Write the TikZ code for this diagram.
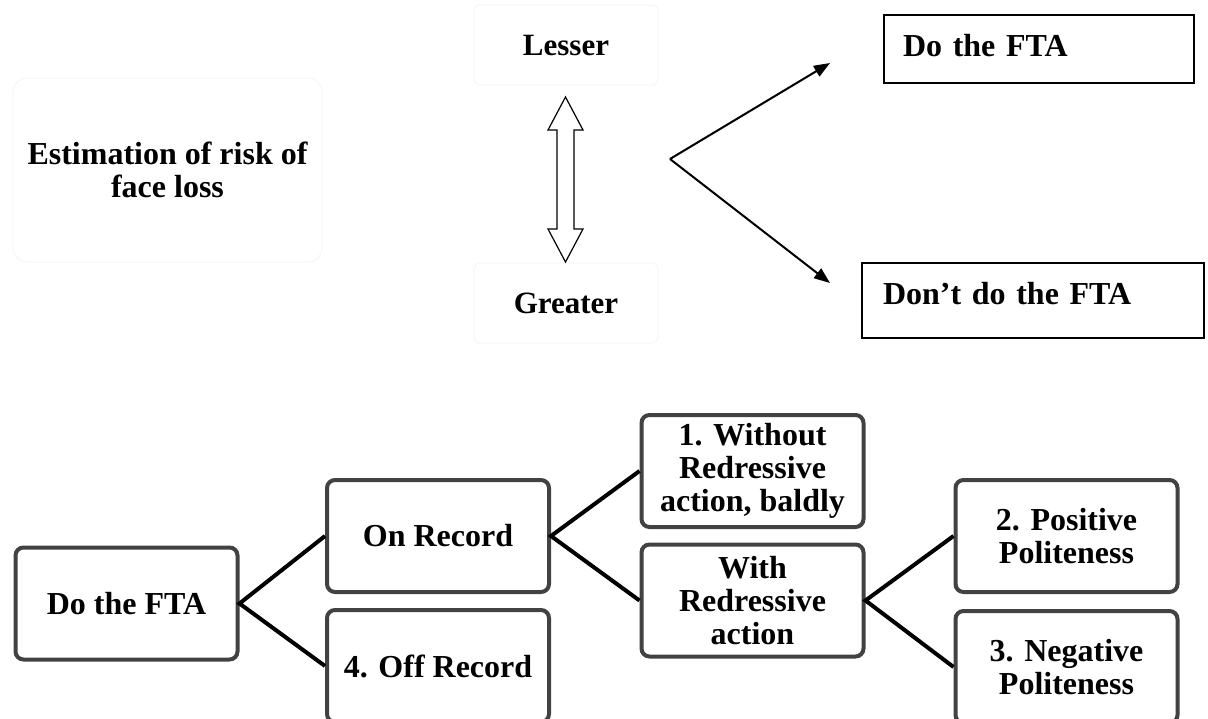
\documentclass[tikz,border=0pt]{standalone}
\usepackage{fontspec}
\setmainfont{Liberation Serif}
\usetikzlibrary{arrows.meta}
\definecolor{edge}{HTML}{424242}
\definecolor{ghost}{HTML}{F6F6F6}
\tikzset{
  choice/.style={draw=edge,line width=4pt,rounded corners=8pt,fill=white,align=center,minimum width=222pt,minimum height=112pt,inner sep=0pt,font=\bfseries\fontsize{32}{33}\selectfont},
  level/.style={draw=ghost,line width=1pt,rounded corners=6pt,align=center,minimum width=184pt,minimum height=80pt,font=\bfseries\fontsize{31}{33}\selectfont},
  outcome/.style={draw,line width=2pt,anchor=north west,align=left,inner xsep=19pt,inner ysep=0pt,text height=41pt,font=\bfseries\fontsize{32}{33}\selectfont},
  link/.style={line width=4pt,draw=black},
  pointer/.style={line width=2pt,-{Triangle[length=16pt,width=12pt]}}
}
\begin{document}
\begin{tikzpicture}[x=1pt,y=-1pt]
  \clip (0,0) rectangle (1208,718);
  \fill[white] (0,0) rectangle (1208,718);
  % estimation of risk
  \node[draw=ghost,line width=1pt,rounded corners=14pt,minimum width=309pt,minimum height=184pt,align=center,font=\bfseries\fontsize{32}{33}\selectfont] (estim) at (167.5,170) {Estimation of risk of\\face loss};
  \node[level] (lesser) at (566,45) {Lesser};
  \node[level] (greater) at (566,303) {Greater};
  \draw[line width=1.2pt,fill=white] (565.5,97) -- (583,130) -- (574,130) -- (574,229) -- (583,229) -- (565.5,262)
    -- (548,229) -- (557,229) -- (557,130) -- (548,130) -- cycle;
  \node[outcome,text width=272pt,text depth=27pt] (dofta) at (883,14) {Do the FTA};
  \node[outcome,text width=300pt,inner xsep=21pt,text depth=34pt] (dontfta) at (861,262) {Don’t do the FTA};
  \coordinate (fork) at (670,159);
  \coordinate (tipdo) at (830,63);
  \coordinate (tipdont) at (830,283);
  \draw[pointer] (fork) -- (tipdo);
  \draw[pointer] (fork) -- (tipdont);

  % strategy tree
  \node[choice] (fta) at (126.5,603.5) {Do the FTA};
  \node[choice] (onrec) at (438,536) {On Record};
  \node[choice] (offrec) at (438,666) {4. Off Record};
  \node[choice] (bald) at (752.5,471) {1. Without\\Redressive\\action, baldly};
  \node[choice] (redress) at (752.5,600.5) {With\\Redressive\\action};
  \node[choice] (positive) at (1066.5,536) {2. Positive\\Politeness};
  \node[choice] (negative) at (1066.5,667) {3. Negative\\Politeness};
  \draw[link] (onrec.west) -- (fta.east) -- (offrec.west);
  \draw[link] (bald.west) -- (onrec.east) -- (redress.west);
  \draw[link] (positive.west) -- (redress.east) -- (negative.west);
\end{tikzpicture}
\end{document}
